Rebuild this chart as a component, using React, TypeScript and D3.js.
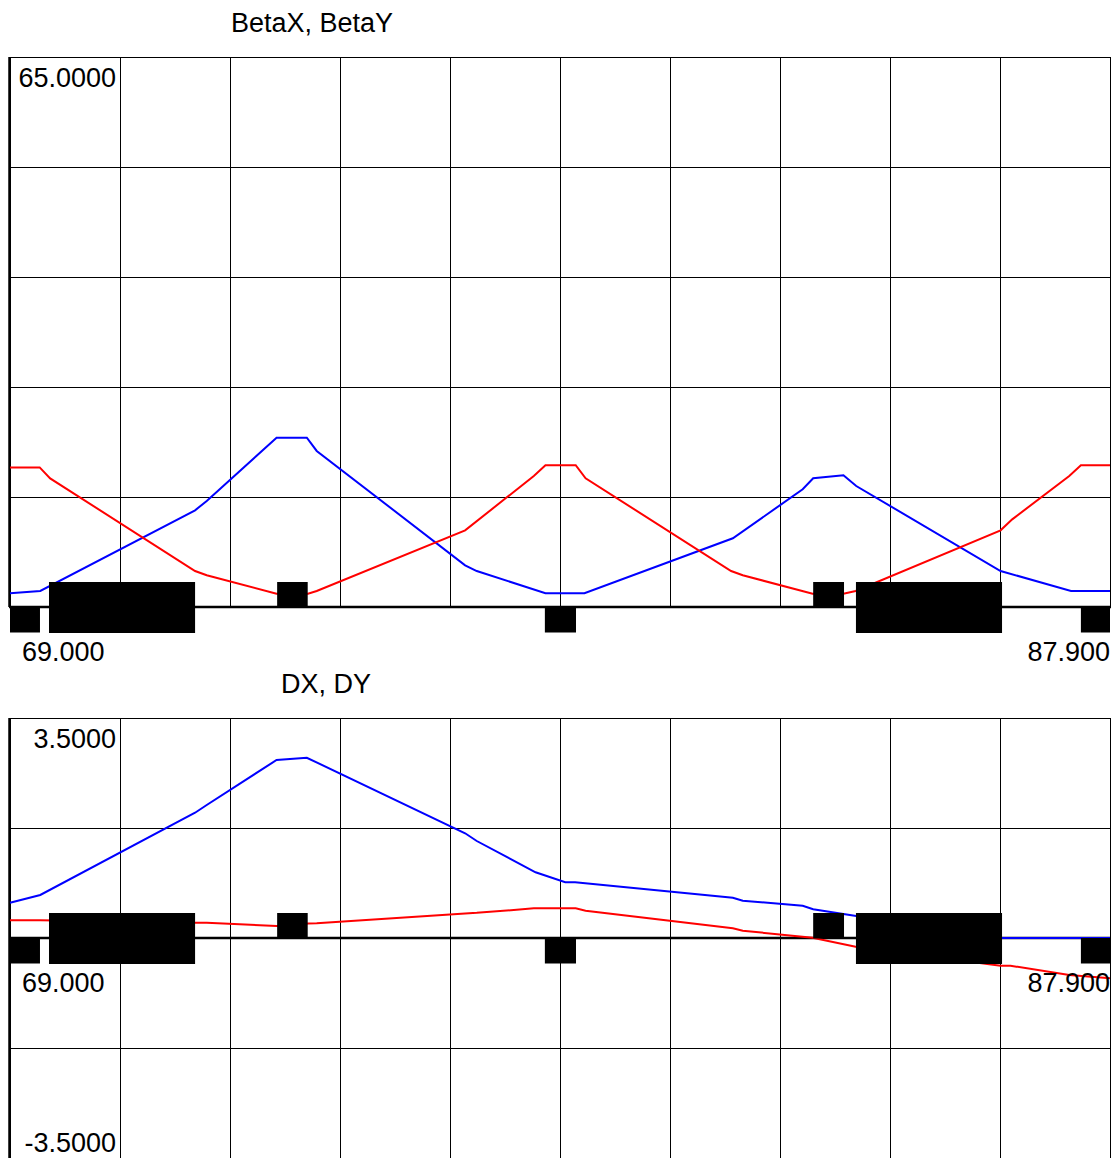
import React from "react";
import * as d3 from "d3";

// ---- lattice elements (start, end in metres; F = above axis, D = below, B = both)
const magnetStart = [69.0, 69.67, 73.59, 78.19, 82.8, 83.535, 87.4];
const magnetEnd = [69.515, 72.18, 74.115, 78.725, 83.33, 86.045, 87.9];
const magnetType = ["D", "B", "F", "D", "F", "B", "D"];

// ---- top panel: BetaX (blue), BetaY (red)
const betaXPos = [69.0, 69.52, 72.18, 72.38, 73.58, 74.1, 74.27, 76.82, 77.02, 78.2, 78.87, 81.42, 82.62, 82.8, 83.32, 83.54, 86.02, 87.23, 87.9];
const betaXVal = [1.62, 1.89, 11.43, 12.53, 20.0, 20.0, 18.44, 4.93, 4.25, 1.62, 1.62, 8.12, 13.91, 15.21, 15.56, 14.3, 4.25, 1.89, 1.89];
const betaYPos = [69.0, 69.51, 69.69, 72.18, 72.38, 73.58, 74.12, 74.27, 76.82, 78.0, 78.2, 78.72, 78.89, 81.39, 81.59, 82.79, 83.32, 83.53, 86.02, 86.22, 87.2, 87.4, 87.9];
const betaYVal = [16.5, 16.5, 15.2, 4.25, 3.75, 1.57, 1.57, 1.89, 9.06, 15.48, 16.75, 16.75, 15.21, 4.25, 3.75, 1.57, 1.57, 1.89, 9.06, 10.36, 15.48, 16.75, 16.75];

// ---- bottom panel: DX (blue), DY (red)
const dxPos = [69.0, 69.52, 72.18, 72.38, 73.58, 74.1, 76.82, 77.02, 78.03, 78.54, 78.71, 81.42, 81.59, 82.62, 82.8, 83.54, 86.02, 87.9];
const dxVal = [0.562, 0.684, 1.993, 2.116, 2.832, 2.868, 1.666, 1.543, 1.045, 0.886, 0.886, 0.641, 0.593, 0.514, 0.457, 0.35, 0, 0];
const dyPos = [69.0, 69.52, 72.18, 72.38, 73.58, 74.12, 74.27, 76.82, 77.02, 78.0, 78.72, 78.89, 81.42, 81.59, 82.79, 83.53, 86.02, 86.19, 87.2, 87.9];
const dyVal = [0.282, 0.282, 0.243, 0.243, 0.19, 0.23, 0.234, 0.39, 0.4, 0.472, 0.472, 0.434, 0.154, 0.116, 0.005, -0.138, -0.441, -0.441, -0.589, -0.641];

const sStart = 69.0;
const sEnd = 87.9;
const xLabels = ["69.000", "87.900"];

const FONT = "'Liberation Sans', Arial, Helvetica, sans-serif";

type PanelProps = {
  title: string;
  titleX: number;
  yMin: number;
  yMax: number;
  yTop: number;
  yBottom: number;
  rows: number;
  yLabels: string[];
  blue: [number[], number[]];
  red: [number[], number[]];
};

const x = d3.scaleLinear().domain([sStart, sEnd]).range([10, 1110]);

const Panel = ({ title, titleX, yMin, yMax, yTop, yBottom, rows, yLabels, blue, red }: PanelProps) => {
  const y = d3.scaleLinear().domain([yMin, yMax]).range([yBottom, yTop]);
  const y0 = y(0);

  // 10 equal divisions along s
  const xGrid = d3.range(11).map(i => sStart + (i * (sEnd - sStart)) / 10);
  const yGrid = d3.range(rows + 1).map(i => yMin + (i * (yMax - yMin)) / rows);

  const line = d3
    .line<[number, number]>()
    .x(d => x(d[0]))
    .y(d => y(d[1]));

  const pts = (s: number[], v: number[]) => s.map((p, i) => [p, v[i]] as [number, number]);

  return (
    <g>
      <text x={titleX} y={yTop - 25} fontSize={27} fontFamily={FONT}>
        {title}
      </text>
      {/* grid */}
      {xGrid.map((g, i) => (
        <line key={"vx" + i} x1={Math.round(x(g)) + 0.5} x2={Math.round(x(g)) + 0.5} y1={yTop} y2={yBottom} stroke="#000" strokeWidth={1} />
      ))}
      {yGrid.map((g, i) => (
        <line key={"hy" + i} x1={10} x2={1111} y1={Math.round(y(g)) + 0.5} y2={Math.round(y(g)) + 0.5} stroke="#000" strokeWidth={1} />
      ))}
      {/* left axis + zero axis */}
      <line x1={9.5} x2={9.5} y1={yTop} y2={yBottom} stroke="#000" strokeWidth={2.5} />
      <line x1={9} x2={1111} y1={y0} y2={y0} stroke="#000" strokeWidth={2.5} />
      {/* y labels */}
      <text x={116} y={yTop + 30} textAnchor="end" fontSize={27} fontFamily={FONT}>
        {yLabels[0]}
      </text>
      {yLabels[1] && (
        <text x={116} y={yBottom - 6} textAnchor="end" fontSize={27} fontFamily={FONT}>
          {yLabels[1]}
        </text>
      )}
      {/* curves */}
      <path d={line(pts(blue[0], blue[1])) || ""} fill="none" stroke="#0000ff" strokeWidth={2} />
      <path d={line(pts(red[0], red[1])) || ""} fill="none" stroke="#ff0000" strokeWidth={2} />
      {/* magnets */}
      {magnetStart.map((m, i) => {
        const t = magnetType[i];
        const top = t === "D" ? y0 : y0 - 25;
        const h = t === "B" ? 51 : 25.5;
        return <rect key={"m" + i} x={x(m)} y={top} width={x(magnetEnd[i]) - x(m)} height={h} fill="#000" />;
      })}
      {/* s labels */}
      <text x={22} y={y0 + 54} fontSize={27} fontFamily={FONT}>
        {xLabels[0]}
      </text>
      <text x={1110} y={y0 + 54} textAnchor="end" fontSize={27} fontFamily={FONT}>
        {xLabels[1]}
      </text>
    </g>
  );
};

const App = () => {
  return (
    <svg width={1117} height={1158} style={{ position: "absolute", left: 0, top: 0, background: "#fff" }}>
      <rect width={1117} height={1158} fill="#fff" />
      <Panel
        title="BetaX, BetaY"
        titleX={231}
        yMin={0}
        yMax={65}
        yTop={57}
        yBottom={607}
        rows={5}
        yLabels={["65.0000"]}
        blue={[betaXPos, betaXVal]}
        red={[betaYPos, betaYVal]}
      />
      <Panel
        title="DX, DY"
        titleX={281}
        yMin={-3.5}
        yMax={3.5}
        yTop={718}
        yBottom={1158}
        rows={4}
        yLabels={["3.5000", "-3.5000"]}
        blue={[dxPos, dxVal]}
        red={[dyPos, dyVal]}
      />
    </svg>
  );
};

export default App;
